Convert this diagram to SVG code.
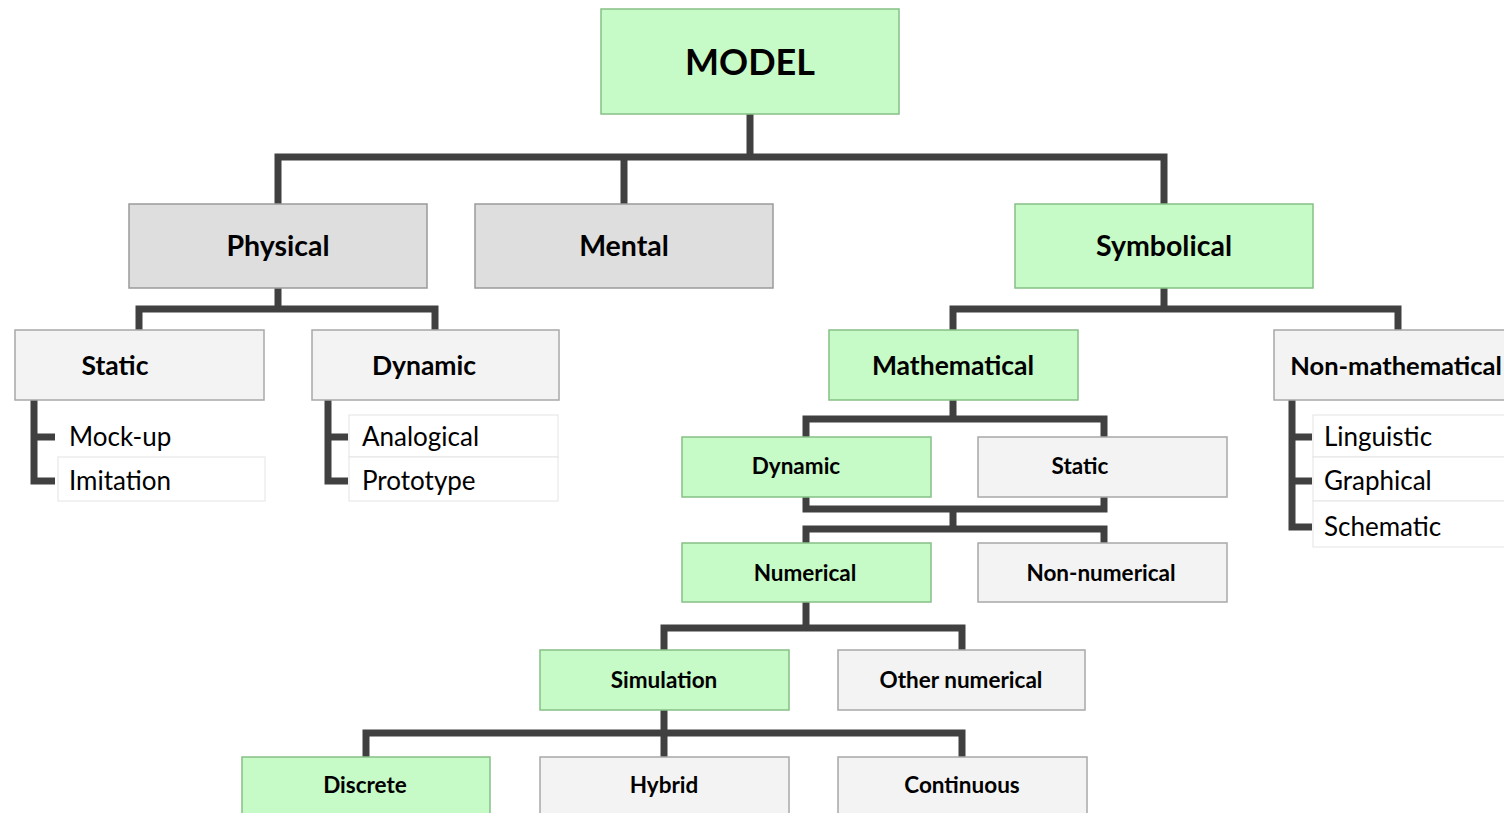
<svg xmlns="http://www.w3.org/2000/svg" width="1504" height="813" viewBox="0 0 1504 813">
<style>
.g{fill:#c6fac6;stroke:#86c086;stroke-width:1.5}
.d{fill:#dedede;stroke:#9a9a9a;stroke-width:1.5}
.l{fill:#f3f3f3;stroke:#a8a8a8;stroke-width:1.5}
.w{fill:#ffffff;stroke:#e4e4e4;stroke-width:1}
.c{fill:none;stroke:#404040;stroke-width:7;stroke-linejoin:miter;stroke-linecap:butt}
text{font-family:Lato,"Liberation Sans",sans-serif;fill:#000}
.b{font-weight:bold;text-anchor:middle}
.t1{font-size:36px}
.t2{font-size:28.5px}
.t3{font-size:26.5px}
.t4{font-size:22.5px}
.r{font-size:26px}
</style>
<rect width="1504" height="813" fill="#fff"/>
<g id="connectors">
<path class="c" d="M750 114V157M278 204V157H1164V204M624 157V204"/>
<path class="c" d="M278 288V309M139 330V309H435V330"/>
<path class="c" d="M1164 288V309M953 330V309H1398V330"/>
<path class="c" d="M34 400V481H55M34 437H55"/>
<path class="c" d="M328 400V481H348M328 437H348"/>
<path class="c" d="M1292 400V527H1312M1292 437H1312M1292 481H1312"/>
<path class="c" d="M953 400V419M806 437V419H1104V437"/>
<path class="c" d="M806 497V509H1104V497M953 509V529M806 543V529H1104V543"/>
<path class="c" d="M806 602V628M664 650V628H962V650"/>
<path class="c" d="M664 710V733M366 757V733H962V757M664 733V757"/>
</g>
<g id="model"><rect class="g" x="601" y="9" width="298" height="105"/><text class="b t1" x="750" y="75">MODEL</text></g>
<g id="physical"><rect class="d" x="129" y="204" width="298" height="84"/><text class="b t2" x="278" y="256">Physical</text></g>
<g id="mental"><rect class="d" x="475" y="204" width="298" height="84"/><text class="b t2" x="624" y="256">Mental</text></g>
<g id="symbolical"><rect class="g" x="1015" y="204" width="298" height="84"/><text class="b t2" x="1164" y="256">Symbolical</text></g>
<g id="static-phys"><rect class="l" x="15" y="330" width="249" height="70"/><text class="b t3" x="115" y="375">Static</text></g>
<g id="dynamic-phys"><rect class="l" x="312" y="330" width="247" height="70"/><text class="b t3" x="424" y="375">Dynamic</text></g>
<g id="mockup"><rect class="w" x="58" y="415" width="207" height="42" style="stroke:none"/><text class="r" x="69" y="446">Mock-up</text></g>
<g id="imitation"><rect class="w" x="58" y="457" width="207" height="44"/><text class="r" x="69" y="490">Imitation</text></g>
<g id="analogical"><rect class="w" x="349" y="415" width="209" height="42"/><text class="r" x="362" y="446">Analogical</text></g>
<g id="prototype"><rect class="w" x="349" y="457" width="209" height="44"/><text class="r" x="362" y="490">Prototype</text></g>
<g id="mathematical"><rect class="g" x="829" y="330" width="249" height="70"/><text class="b t3" x="953" y="375">Mathematical</text></g>
<g id="non-mathematical"><rect class="l" x="1274" y="330" width="250" height="70"/><text class="b" x="1396" y="375" font-size="25.5">Non-mathematical</text></g>
<g id="linguistic"><rect class="w" x="1313" y="415" width="200" height="42"/><text class="r" x="1324" y="446">Linguistic</text></g>
<g id="graphical"><rect class="w" x="1313" y="457" width="200" height="44"/><text class="r" x="1324" y="490">Graphical</text></g>
<g id="schematic"><rect class="w" x="1313" y="501" width="200" height="46"/><text class="r" x="1324" y="536">Schematic</text></g>
<g id="dynamic-math"><rect class="g" x="682" y="437" width="249" height="60"/><text class="b t4" x="796" y="474">Dynamic</text></g>
<g id="static-math"><rect class="l" x="978" y="437" width="249" height="60"/><text class="b t4" x="1080" y="474">Static</text></g>
<g id="numerical"><rect class="g" x="682" y="543" width="249" height="59"/><text class="b t4" x="805" y="581">Numerical</text></g>
<g id="non-numerical"><rect class="l" x="978" y="543" width="249" height="59"/><text class="b t4" x="1101" y="581">Non-numerical</text></g>
<g id="simulation"><rect class="g" x="540" y="650" width="249" height="60"/><text class="b t4" x="664" y="688">Simulation</text></g>
<g id="other-numerical"><rect class="l" x="838" y="650" width="247" height="60"/><text class="b t4" x="961" y="688">Other numerical</text></g>
<g id="discrete"><rect class="g" x="242" y="757" width="248" height="70"/><text class="b t4" x="365" y="793">Discrete</text></g>
<g id="hybrid"><rect class="l" x="540" y="757" width="249" height="70"/><text class="b t4" x="664" y="793">Hybrid</text></g>
<g id="continuous"><rect class="l" x="838" y="757" width="249" height="70"/><text class="b t4" x="962" y="793">Continuous</text></g>
</svg>
